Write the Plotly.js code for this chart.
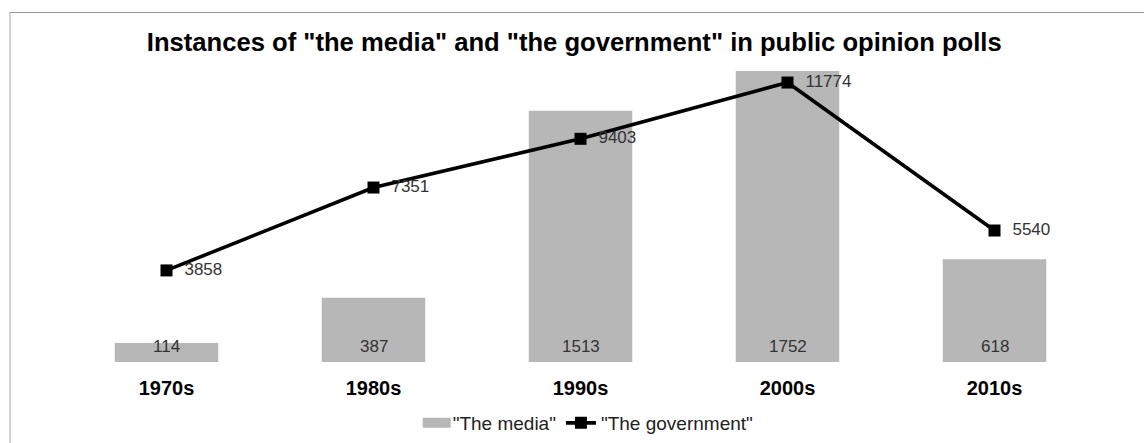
<!DOCTYPE html>
<html>
<head>
<meta charset="utf-8">
<script src="https://cdn.plot.ly/plotly-3.0.1.min.js"></script>
<style>
  html, body { margin: 0; padding: 0; background: #ffffff; }
  #frame { position: absolute; left: 0; top: 0; width: 1144px; height: 443px; overflow: hidden; }
  #border { position: absolute; left: 9px; top: 12px; width: 1140px; height: 440px;
            border-top: 1px solid #9a9a9a; border-left: 2px solid #d2d2d2; pointer-events: none; }
  #chart { position: absolute; left: 0; top: 0; width: 1144px; height: 443px; }
</style>
</head>
<body>
<div id="frame">
  <div id="chart"></div>
  <div id="border"></div>
</div>
<script>
// ---- data ----
const decades = ["1970s", "1980s", "1990s", "2000s", "2010s"];
const mediaCounts = [114, 387, 1513, 1752, 618];
const governmentCounts = [3858, 7351, 9403, 11774, 5540];
const seriesNames = ['"The media"', '"The government"'];
const chartTitle = 'Instances of "the media" and "the government" in public opinion polls';

const FONT = '"Liberation Sans", Arial, sans-serif';

const barTrace = {
  type: 'bar',
  name: seriesNames[0],
  x: decades,
  y: mediaCounts,
  yaxis: 'y',
  marker: { color: '#b7b7b7' },
  hoverinfo: 'x+y'
};

const lineTrace = {
  type: 'scatter',
  mode: 'lines+markers+text',
  name: seriesNames[1],
  x: decades,
  y: governmentCounts,
  yaxis: 'y2',
  line: { color: '#000000', width: 3.6 },
  marker: { symbol: 'square', size: 12, color: '#000000' },
  text: governmentCounts.map(v => '\u00a0\u00a0' + v),
  textposition: 'middle right',
  textfont: { family: FONT, size: 17, color: '#333333' },
  cliponaxis: false
};

const barLabels = decades.map((d, i) => ({
  x: d, y: 0, xref: 'x', yref: 'y',
  text: String(mediaCounts[i]),
  showarrow: false,
  yanchor: 'middle',
  yshift: 16,
  font: { family: FONT, size: 17, color: '#333333' }
}));

const layout = {
  width: 1144,
  height: 443,
  paper_bgcolor: 'rgba(0,0,0,0)',
  plot_bgcolor: 'rgba(0,0,0,0)',
  margin: { l: 63, r: 46, t: 62, b: 81 },
  font: { family: FONT, color: '#222222' },
  title: {
    text: '<b>' + chartTitle + '</b>',
    font: { family: FONT, size: 25.6, color: '#000000' },
    x: 0.502, xref: 'container', xanchor: 'center',
    y: 1 - 42 / 443, yref: 'container', yanchor: 'middle'
  },
  bargap: 0.5,
  xaxis: {
    type: 'category',
    showgrid: false, zeroline: false, showline: false,
    ticks: '',
    ticklabelstandoff: 12,
    tickfont: { family: FONT, size: 20, color: '#000000', weight: 'bold' }
  },
  yaxis: {
    range: [0, 1806],
    showgrid: false, zeroline: false, showline: false,
    showticklabels: false, ticks: ''
  },
  yaxis2: {
    range: [0, 12640],
    overlaying: 'y', side: 'right',
    showgrid: false, zeroline: false, showline: false,
    showticklabels: false, ticks: ''
  },
  showlegend: true,
  legend: {
    orientation: 'h',
    x: 0.505, xanchor: 'center', xref: 'paper',
    y: 1 - 423 / 443, yanchor: 'middle', yref: 'container',
    font: { family: FONT, size: 19, color: '#222222' },
    itemwidth: 30,
    traceorder: 'normal'
  },
  annotations: barLabels
};

Plotly.newPlot('chart', [barTrace, lineTrace], layout, { displayModeBar: false, staticPlot: true })
  .then(gd => {
    // widen the bar legend swatch to a flat rectangle like the reference
    const sw = gd.querySelector('.legend path.legendbar') ||
               gd.querySelector('.legend .legendpoints path');
    if (sw) sw.setAttribute('d', 'M18,5H-10V-5H18Z');
  });
</script>
</body>
</html>
